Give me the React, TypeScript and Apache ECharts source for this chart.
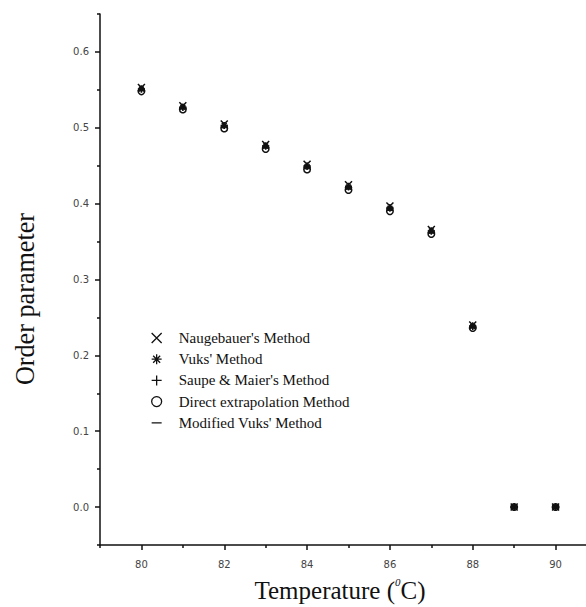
import React, { useEffect, useRef } from "react";
import * as echarts from "echarts";

// ---- data ----
const temperatures = [80, 81, 82, 83, 84, 85, 86, 87, 88, 89, 90];
const naugebauer = [0.553, 0.529, 0.505, 0.478, 0.452, 0.425, 0.397, 0.366, 0.240, 0.0, 0.0];
const vuks = [0.551, 0.527, 0.503, 0.476, 0.449, 0.422, 0.394, 0.364, 0.238, 0.0, 0.0];
const saupeMaier = [0.551, 0.527, 0.503, 0.476, 0.450, 0.423, 0.395, 0.364, 0.239, 0.0, 0.0];
const directExtrapolation = [0.548, 0.524, 0.499, 0.472, 0.445, 0.418, 0.390, 0.360, 0.236, 0.0, 0.0];
const modifiedVuks = [0.549, 0.525, 0.500, 0.473, 0.446, 0.419, 0.391, 0.361, 0.237, 0.0, 0.0];

const seriesNames = [
  "Naugebauer's Method",
  "Vuks' Method",
  "Saupe & Maier's Method",
  "Direct extrapolation Method",
  "Modified Vuks' Method",
];

const xMajorTicks = [80, 82, 84, 86, 88, 90];
const xMinorTicks = [79, 81, 83, 85, 87, 89, 91];
const yMajorTicks = [0.0, 0.1, 0.2, 0.3, 0.4, 0.5, 0.6];
const yMinorTicks = [-0.05, 0.05, 0.15, 0.25, 0.35, 0.45, 0.55, 0.65];

const xTitle = "Temperature (";
const yTitle = "Order parameter";

// ---- symbols ----
const SYM_CROSS = "path://M0,0L10,10M10,0L0,10";
const SYM_STAR = "path://M5,0L5,10M0,5L10,5M1.5,1.5L8.5,8.5M8.5,1.5L1.5,8.5";
const SYM_PLUS = "path://M5,0L5,10M0,5L10,5";
const SYM_MINUS =
  "path://M0,4.4L10,4.4L10,5.6L0,5.6Z M0,0L0.01,0L0.01,0.01Z M9.99,9.99L10,9.99L10,10Z";

const SERIF = "'Liberation Serif', 'Times New Roman', serif";
const SANS = "'DejaVu Sans', sans-serif";
const INK = "#111";

export default function App() {
  const ref = useRef<HTMLDivElement>(null);

  useEffect(() => {
    if (!ref.current) return;
    const chart = echarts.init(ref.current, undefined, { renderer: "svg" });

    const values = [naugebauer, vuks, saupeMaier, directExtrapolation, modifiedVuks];
    const symbols = [SYM_CROSS, SYM_STAR, SYM_PLUS, "circle", SYM_MINUS];
    const sizes = [7, 7, 7, 6.5, 7];

    const series = values.map((arr, k) => {
      const isMinus = k === 4;
      return {
        type: "scatter",
        name: seriesNames[k],
        xAxisIndex: 0,
        yAxisIndex: 0,
        symbol: symbols[k],
        symbolSize: sizes[k],
        symbolKeepAspect: true,
        data: temperatures.map((t, i) => [t, arr[i]]),
        itemStyle: {
          color: isMinus ? INK : "rgba(0,0,0,0)",
          borderColor: INK,
          borderWidth: isMinus ? 0 : 1.5,
          opacity: 1,
        },
        emphasis: { disabled: true },
        z: 2 + k,
      };
    });

    const option: any = {
      animation: false,
      backgroundColor: "#fff",
      grid: {
        left: 100,
        right: -11,
        top: 14,
        bottom: 62,
        containLabel: false,
        outerBoundsMode: "none",
      },
      xAxis: [
        {
          type: "value",
          position: "bottom",
          min: 79,
          max: 91,
          interval: 1,
          axisLine: { show: true, onZero: false, lineStyle: { color: INK, width: 1.5 } },
          axisTick: {
            show: true,
            inside: false,
            length: 5,
            customValues: xMajorTicks,
            lineStyle: { color: INK, width: 1.5 },
          },
          axisLabel: {
            show: true,
            customValues: xMajorTicks,
            margin: 14,
            fontFamily: SANS,
            fontSize: 10,
            color: "#444",
          },
          splitLine: { show: false },
        },
        {
          type: "value",
          position: "bottom",
          min: 79,
          max: 91,
          interval: 1,
          axisLine: { show: false, onZero: false },
          axisTick: {
            show: true,
            inside: false,
            length: 3,
            customValues: xMinorTicks,
            lineStyle: { color: INK, width: 1.5 },
          },
          axisLabel: { show: false },
          splitLine: { show: false },
        },
      ],
      yAxis: [
        {
          type: "value",
          position: "left",
          min: -0.05,
          max: 0.65,
          interval: 0.05,
          axisLine: { show: true, onZero: false, lineStyle: { color: INK, width: 1.5 } },
          axisTick: {
            show: true,
            inside: false,
            length: 5,
            customValues: yMajorTicks,
            lineStyle: { color: INK, width: 1.5 },
          },
          axisLabel: {
            show: true,
            customValues: yMajorTicks,
            margin: 11,
            fontFamily: SANS,
            fontSize: 10,
            color: "#444",
            formatter: (v: number) => v.toFixed(1),
          },
          splitLine: { show: false },
        },
        {
          type: "value",
          position: "left",
          min: -0.05,
          max: 0.65,
          interval: 0.05,
          axisLine: { show: false, onZero: false },
          axisTick: {
            show: true,
            inside: false,
            length: 3,
            customValues: yMinorTicks,
            lineStyle: { color: INK, width: 1.5 },
          },
          axisLabel: { show: false },
          splitLine: { show: false },
        },
      ],
      legend: {
        show: true,
        orient: "vertical",
        left: 146,
        top: 325,
        padding: 5,
        itemWidth: 34,
        itemHeight: 10,
        itemGap: 5.2,
        selectedMode: false,
        textStyle: { fontFamily: SERIF, fontSize: 15, color: INK, lineHeight: 16 },
        itemStyle: { borderWidth: 1.3 },
        data: seriesNames.map((n, k) => ({
          name: n,
          itemStyle: k === 4 ? { borderWidth: 0 } : { borderWidth: 1.3 },
        })),
      },
      graphic: [
        {
          type: "text",
          x: 25,
          y: 299,
          rotation: Math.PI / 2,
          scaleX: 0.97,
          style: {
            text: yTitle,
            fontFamily: SERIF,
            fontSize: 27,
            fill: INK,
            align: "center",
            verticalAlign: "middle",
          },
        },
        {
          type: "text",
          x: 340,
          y: 590,
          style: {
            text: xTitle + "{sup|0}C)",
            fontFamily: SERIF,
            fontSize: 25,
            fill: INK,
            align: "center",
            verticalAlign: "middle",
            rich: {
              sup: {
                fontFamily: SERIF,
                fontSize: 11,
                fontStyle: "italic",
                fill: INK,
                verticalAlign: "top",
                lineHeight: 28,
              },
            },
          },
        },
      ],
      series,
    };

    chart.setOption(option);
    return () => chart.dispose();
  }, []);

  return (
    <div
      ref={ref}
      style={{ position: "absolute", left: 0, top: 0, width: 586, height: 607 }}
    />
  );
}
